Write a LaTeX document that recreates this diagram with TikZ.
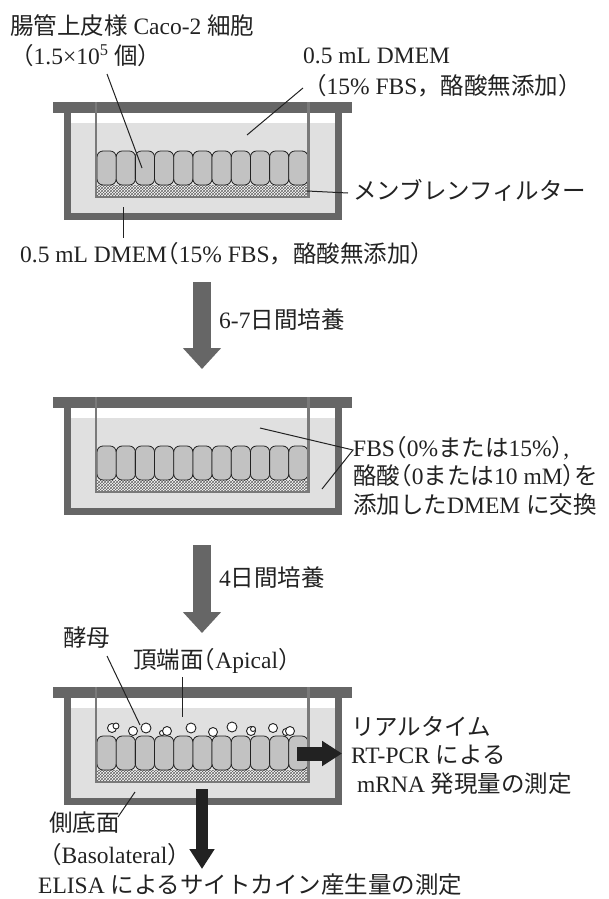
\documentclass[tikz,border=0pt]{standalone}
\usepackage{fontspec}
\setmainfont{Liberation Serif}
\newfontfamily\jp{Noto Sans CJK JP}
\newfontfamily\jphalf{Noto Sans CJK JP}[RawFeature=+halt]
\usetikzlibrary{arrows.meta,patterns}
\definecolor{wallgray}{HTML}{666666}
\definecolor{rimgray}{HTML}{7A7A7A}
\definecolor{medgray}{HTML}{E0E0E0}
\definecolor{cellgray}{HTML}{C2C2C2}
\definecolor{inkblack}{HTML}{222222}
% half-width brackets inside a line
\newcommand{\lpar}{{\jphalf （}}
\newcommand{\rpar}{{\jphalf ）}}
\tikzset{x=1pt, y=-1pt,
  lbl/.style={font=\fontsize{23.5}{28.5}\selectfont, inner sep=0pt, text=inkblack},
  leader/.style={draw=inkblack, line width=1pt},
  cellbox/.style={draw=inkblack, fill=cellgray, line width=.8pt, rounded corners=6pt},
  yeastcell/.style={draw=inkblack, fill=white, line width=.9pt},
  grayarrow/.style={draw=wallgray, line width=18pt, -{Triangle[width=37pt,length=21pt]}},
  blackarrow/.style={draw=inkblack, line width=#1, -{Triangle[width=24pt,length=20pt]}}}

% one culture insert in its well
\newcommand{\culturewell}{%
  \fill[medgray] (70,123) rectangle (335,213);
  \draw[wallgray, line width=7pt] (67,113) -- (67,216.5) -- (338.5,216.5) -- (338.5,113);
  \fill[wallgray] (53,102) rectangle (352,113);
  \fill[white] (97,185) rectangle (308,196);
  \fill[pattern=crosshatch, pattern color=wallgray] (97,185) rectangle (308,196);
  \foreach \i in {0,...,10}
    \draw[cellbox] ({97+\i*19.18},151) rectangle ++(19.18,34);
  \draw[rimgray, line width=2.5pt] (96,102) -- (96,197) -- (308.5,197) -- (308.5,102);
}

\begin{document}
\begin{tikzpicture}
\useasboundingbox (0,0) rectangle (609,899);

% seeding
\begin{scope}
  \culturewell
\end{scope}
\node[lbl, anchor=west] (caco) at (10,26) {{\jp 腸管上皮様} Caco-2 {\jp 細胞}};
\node[lbl, anchor=west] (cacoNum) at (10,56) {{\jp （}1.5×10\textsuperscript{5} {\jp 個）}};
\node[lbl, anchor=west] (dmemTop) at (303,56) {0.5 mL DMEM};
\node[lbl, anchor=west] (dmemTopSub) at (303,86) {{\jp （}15\% FBS{\jp ，酪酸無添加）}};
\node[lbl, anchor=west] (membrane) at (353,190) {\jp メンブレンフィルター};
\node[lbl, anchor=west] (dmemBottom) at (20,254) {0.5 mL DMEM\lpar 15\% FBS{\jp ，酪酸無添加）}};
\coordinate (cacoFrom) at (107,74);   \coordinate (cacoTo) at (142,168);
\coordinate (apFrom) at (303,88);     \coordinate (apTo) at (247,135);
\coordinate (memFrom) at (307,191);   \coordinate (memTo) at (348,193);
\coordinate (basFrom) at (123,207);   \coordinate (basTo) at (123,238);
\draw[leader] (cacoFrom) -- (cacoTo);
\draw[leader] (apFrom) -- (apTo);
\draw[leader] (memFrom) -- (memTo);
\draw[leader] (basFrom) -- (basTo);

% first culture step
\coordinate (stepAtop) at (202,282);
\coordinate (stepAend) at (202,369);
\draw[grayarrow] (stepAtop) -- (stepAend);
\node[lbl, anchor=west] (cult1) at (219,320) {6-7{\jp 日間培養}};

% medium exchange
\begin{scope}[shift={(0,295)}]
  \culturewell
\end{scope}
\node[lbl, anchor=north west, align=left] (medium) at (353,436)
  {FBS\lpar 0\%{\jp または}15\%\rpar,\\
   {\jp 酪酸}\lpar 0{\jp または}10 mM\rpar{\jp を}\\
   {\jp 添加した}DMEM {\jp に交換}};
\coordinate (mixUp) at (260,428);
\coordinate (mixJoin) at (353,450);
\coordinate (mixDown) at (322,489);
\draw[leader] (mixUp) -- (mixJoin) -- (mixDown);

% second culture step
\coordinate (stepBtop) at (202,545);
\coordinate (stepBend) at (202,633);
\draw[grayarrow] (stepBtop) -- (stepBend);
\node[lbl, anchor=west] (cult2) at (219,578) {4{\jp 日間培養}};

% co-culture with yeast and read-outs
\begin{scope}[shift={(0,585)}]
  \culturewell
  \foreach \x/\y/\r in {112/143/4.5, 116/141/3, 133/146/4.5, 146/143/5, 162/148/2.5,
      167/146/4.5, 191/143/5, 213/147/4.5, 232/142/5, 251/146/4.5, 253/144/2.5,
      273/143/4.5, 286/147/3.5, 290/146/4.5}
    \draw[yeastcell] (\x,\y) circle (\r);
\end{scope}
\node[lbl, anchor=west] (yeast) at (63,638) {\jp 酵母};
\node[lbl, anchor=west] (apical) at (133,661) {{\jp 頂端面}\lpar Apical{\jp ）}};
\coordinate (yeastFrom) at (107,656);  \coordinate (yeastTo) at (140,725);
\coordinate (apicalFrom) at (182,677); \coordinate (apicalTo) at (182,717);
\draw[leader] (yeastFrom) -- (yeastTo);
\draw[leader] (apicalFrom) -- (apicalTo);

\coordinate (pcrFrom) at (297,753.5);
\coordinate (pcrTo) at (342,753.5);
\draw[blackarrow=14pt] (pcrFrom) -- (pcrTo);
\node[lbl, anchor=west, align=left] (rtpcr) at (351,755)
  {{\jp リアルタイム}\\RT-PCR {\jp による}\\\ mRNA {\jp 発現量の測定}};

\node[lbl, anchor=west] (sokutei) at (49,823) {\jp 側底面};
\node[lbl, anchor=west] (baso) at (38,855) {{\jp （}Basolateral{\jp ）}};
\coordinate (sideFrom) at (118,817);   \coordinate (sideTo) at (135,792);
\draw[leader] (sideFrom) -- (sideTo);

\coordinate (elisaFrom) at (202,789);
\coordinate (elisaTo) at (202,869);
\draw[blackarrow=12pt] (elisaFrom) -- (elisaTo);
\node[lbl, anchor=west] (elisa) at (38,885) {ELISA {\jp によるサイトカイン産生量の測定}};
\end{tikzpicture}
\end{document}
